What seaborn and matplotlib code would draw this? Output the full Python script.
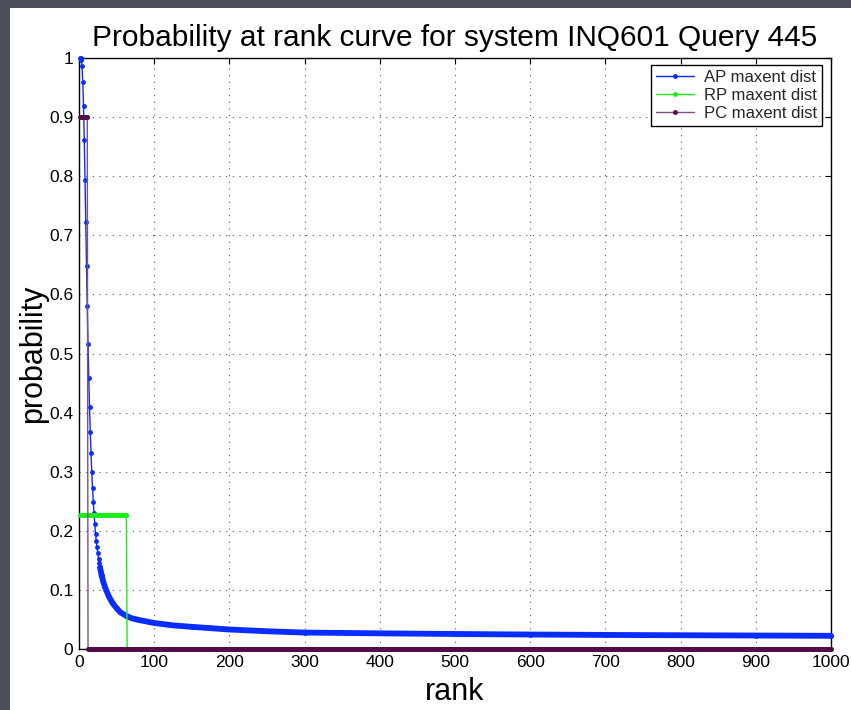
import numpy as np
import pandas as pd
import matplotlib
matplotlib.use("Agg")
import matplotlib.pyplot as plt
import seaborn as sns
from matplotlib.patches import Rectangle
from matplotlib.ticker import FixedLocator, FormatStrFormatter

# ---------------- data ----------------
ap_rank = [1, 2, 3, 4, 5, 6, 7, 8, 9, 10, 11, 12, 13, 14, 15, 16, 17, 18, 19, 20,
           21, 22, 23, 24, 25, 26, 27, 28, 29, 30, 32, 35, 40, 45, 50, 55, 63, 70,
           80, 100, 125, 150, 200, 250, 300, 400, 500, 600, 700, 800, 900, 1000]
ap_prob = [1.0, 1.0, 0.997, 0.986, 0.96, 0.918, 0.862, 0.794, 0.722, 0.648,
           0.580, 0.516, 0.458, 0.409, 0.367, 0.331, 0.299, 0.272, 0.249, 0.230,
           0.211, 0.195, 0.183, 0.172, 0.162, 0.153, 0.145, 0.138, 0.131, 0.125,
           0.115, 0.103, 0.088, 0.077, 0.069, 0.062, 0.056, 0.052,
           0.049, 0.044, 0.040, 0.0375, 0.033, 0.030, 0.0278, 0.0265, 0.0254,
           0.0245, 0.0238, 0.0233, 0.0228, 0.0223]
ap_band_from_rank = 28

rp_level = 0.227
rp_last_rank = 63
pc_level = 0.9
pc_last_rank = 11
max_rank = 1000

x_ticks = [0, 100, 200, 300, 400, 500, 600, 700, 800, 900, 1000]
y_ticks = [0, 0.1, 0.2, 0.3, 0.4, 0.5, 0.6, 0.7, 0.8, 0.9, 1.0]
series_labels = ["AP maxent dist", "RP maxent dist", "PC maxent dist"]
title_text = "Probability at rank curve for system INQ601 Query 445"
x_label = "rank"
y_label = "probability"

# ---------------- styling ----------------
sns.set_theme(style="white")
plt.rcParams["font.family"] = ["Liberation Sans", "DejaVu Sans"]

blue = "#0a2dff"
green = "#19f019"
pc_line = "#80507f"
pc_mark = "#520c4b"

W, H = 851, 710
fig = plt.figure(figsize=(W / 100, H / 100), dpi=100, facecolor="#4d505b")
bg = Rectangle((10 / W, 0), (W - 10) / W, (H - 8) / H,
               transform=fig.transFigure, facecolor="white",
               edgecolor="none", zorder=-10)
fig.patches.append(bg)
ax = fig.add_axes([79 / W, 61 / H, 752 / W, 591 / H])
ax.set_zorder(1)
ax.set_facecolor("white")

ranks = np.arange(1, max_rank + 1)
rp_prob = np.where(ranks <= rp_last_rank, rp_level, 0.0)
pc_prob = np.where(ranks <= pc_last_rank, pc_level, 0.0)

ap_df = pd.DataFrame({"rank": ap_rank, "prob": ap_prob})
rp_df = pd.DataFrame({"rank": ranks, "prob": rp_prob})
pc_df = pd.DataFrame({"rank": ranks, "prob": pc_prob})

ms = 3.5
sns.lineplot(data=ap_df, x="rank", y="prob", ax=ax, color=blue, lw=1.0,
             marker="o", markersize=ms, markeredgewidth=0, estimator=None,
             sort=False, label=series_labels[0], zorder=7, clip_on=False)
tail = ap_df[ap_df["rank"] >= ap_band_from_rank]
sns.lineplot(data=tail, x="rank", y="prob", ax=ax, color=blue, lw=4.2,
             estimator=None, sort=False, legend=False, zorder=7,
             solid_capstyle="round", clip_on=False)
sns.lineplot(data=rp_df, x="rank", y="prob", ax=ax, color=green, lw=1.0,
             marker="o", markersize=ms, markeredgewidth=0, estimator=None,
             sort=False, label=series_labels[1], zorder=8, clip_on=False)
sns.lineplot(data=pc_df, x="rank", y="prob", ax=ax, color=pc_line, lw=1.0,
             marker="o", markersize=ms, markerfacecolor=pc_mark,
             markeredgewidth=0, estimator=None, sort=False,
             label=series_labels[2], zorder=9, clip_on=False)

ax.set_xlim(0, max_rank)
ax.set_ylim(0, 1)
ax.xaxis.set_major_locator(FixedLocator(x_ticks))
ax.yaxis.set_major_locator(FixedLocator(y_ticks))
ax.xaxis.set_major_formatter(FormatStrFormatter("%g"))
ax.yaxis.set_major_formatter(FormatStrFormatter("%g"))
ax.grid(True, linestyle=(0, (1, 5)), color="#555555", lw=0.8)
ax.tick_params(direction="in", length=4, width=0.8, top=True, right=True,
               labelsize=12.5, colors="black", pad=4)
for s in ax.spines.values():
    s.set_color("black")
    s.set_linewidth(1.0)
    s.set_zorder(6)

ax.set_xlabel(x_label, fontsize=22, labelpad=5, color="black")
ax.set_ylabel(y_label, fontsize=22, labelpad=1, color="black")
ax.set_title(title_text, fontsize=21.5, pad=9, color="black")

leg = ax.legend(loc="upper right", bbox_to_anchor=(0.988, 0.988), fontsize=12,
                frameon=True, fancybox=False, edgecolor="black", framealpha=1,
                borderpad=0.3, labelspacing=0.18, handlelength=2.3,
                handletextpad=0.6, borderaxespad=0)
leg.get_frame().set_linewidth(1.0)
leg.set_zorder(10)

fig.savefig("out.png", dpi=100, facecolor=fig.get_facecolor())
